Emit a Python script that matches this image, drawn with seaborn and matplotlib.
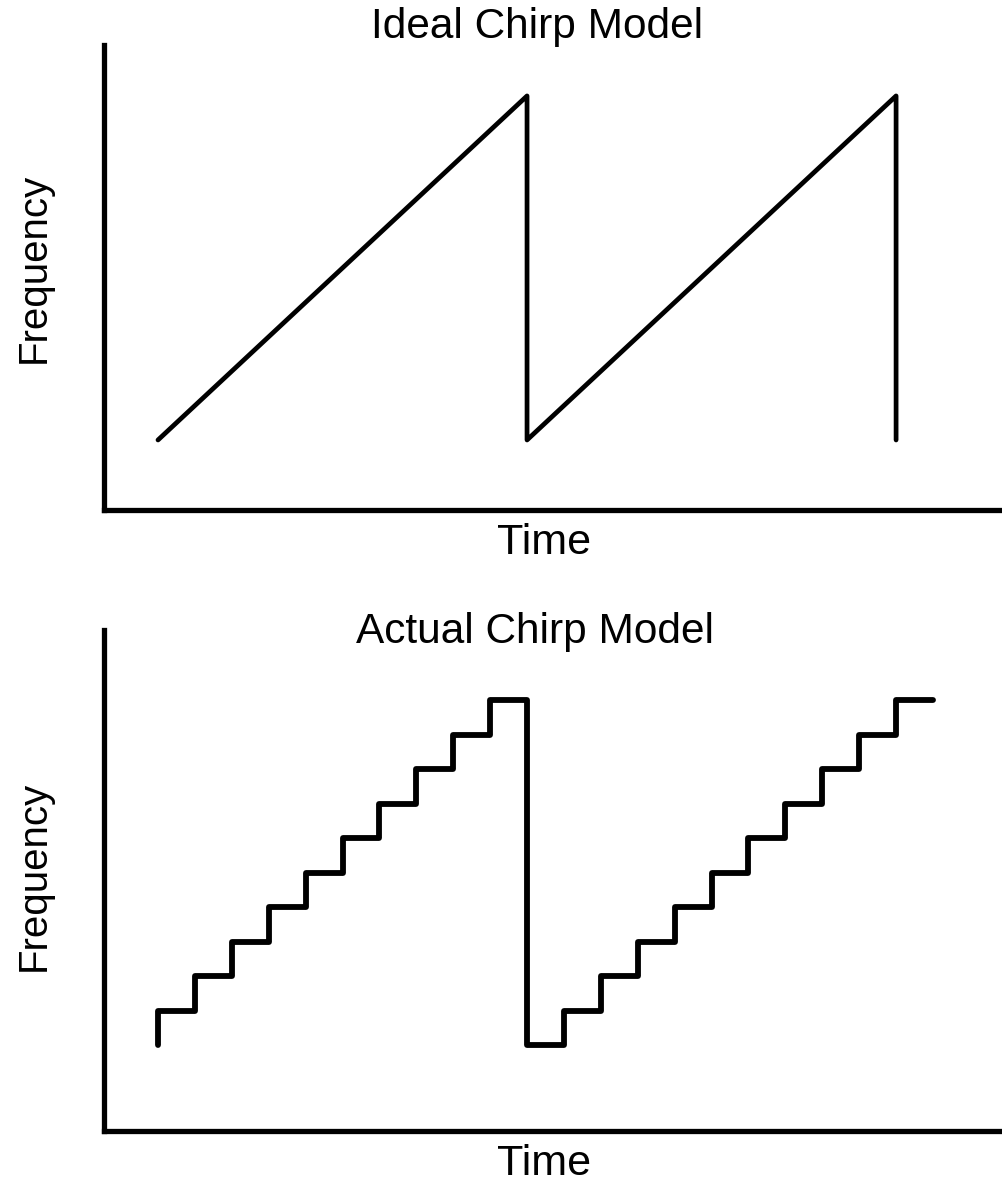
import matplotlib
matplotlib.use("Agg")
import matplotlib.pyplot as plt
import seaborn as sns
import pandas as pd


# ideal chirp: linear ramps, reset at t=10 and t=20
ideal_time = [0, 10, 10, 20, 20]
ideal_freq = [0, 1, 0, 1, 0]

# actual chirp: stepped ramps (10 steps per ramp)
step_time = [0, 0, 1, 2, 3, 4, 5, 6, 7, 8, 9,
             10, 11, 12, 13, 14, 15, 16, 17, 18, 19, 20, 21]
step_level = [0, 1, 2, 3, 4, 5, 6, 7, 8, 9, 10,
              0, 1, 2, 3, 4, 5, 6, 7, 8, 9, 10, 10]

sns.set_style("white")
plt.rcParams['font.family'] = ['Liberation Sans', 'DejaVu Sans']
plt.rcParams['text.color'] = 'black'
plt.rcParams['axes.labelcolor'] = 'black'

fig = plt.figure(figsize=(10.02, 11.86), dpi=100)
W, H = 1002, 1186

# axes boxes in pixels: left, top, right, bottom
ax1 = fig.add_axes([104 / W, 1 - 510 / H, (1002 - 104) / W, (510 - 45) / H])
ax2 = fig.add_axes([104 / W, 1 - 1131 / H, (1002 - 104) / W, (1131 - 630) / H])

ideal_df = pd.DataFrame({"Time": ideal_time, "Frequency": ideal_freq})
step_df = pd.DataFrame({"Time": step_time, "Frequency": step_level})

sns.lineplot(data=ideal_df, x="Time", y="Frequency", ax=ax1, sort=False,
             estimator=None, color="black", linewidth=3.4)
sns.lineplot(data=step_df, x="Time", y="Frequency", ax=ax2, sort=False,
             estimator=None, color="black", linewidth=4.2,
             drawstyle="steps-post")

ax1.set_xlim(-1.463, 22.87)
ax1.set_ylim(-0.2035, 1.148)
ax2.set_xlim(-1.463, 22.87)
ax2.set_ylim(-2.493, 12.03)

for ax in (ax1, ax2):
    sns.despine(ax=ax)
    ax.spines["left"].set_linewidth(3.8)
    ax.spines["bottom"].set_linewidth(3.8)
    ax.spines["left"].set_color("black")
    ax.spines["bottom"].set_color("black")
    ax.set_xticks([])
    ax.set_yticks([])
    ax.set_xlabel("Time", fontsize=31, color="black")
    ax.set_ylabel("Frequency", fontsize=29, color="black")
    ax.xaxis.label.set_verticalalignment("baseline")

ax1.set_title("Ideal Chirp Model", fontsize=30.5, color="black",
              x=0.4827, y=1.0151, pad=0)
ax2.set_title("Actual Chirp Model", fontsize=30.5, color="black",
              x=0.48, y=0.974, pad=0)

ax1.xaxis.set_label_coords(0.49, -44 / 465)
ax2.xaxis.set_label_coords(0.49, -44 / 501)
ax1.yaxis.set_label_coords(-0.0568, 0.5215)
ax2.yaxis.set_label_coords(-0.0568, 0.509)

fig.savefig("out.png", dpi=100)
